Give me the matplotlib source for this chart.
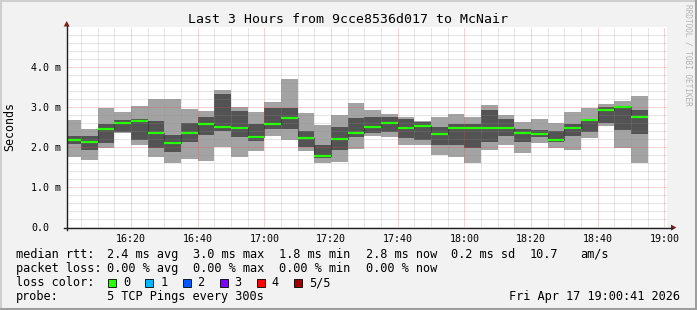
import matplotlib
matplotlib.use("Agg")
import matplotlib.pyplot as plt
from matplotlib.patches import Rectangle, Polygon
from matplotlib.lines import Line2D

W, H = 697, 310
MONO = "DejaVu Sans Mono"
plt.rcParams["font.family"] = MONO
plt.rcParams["lines.scale_dashes"] = False

# minutes after 16:00, one bar per 5 minute step (300s)
step_start = list(range(0, 175, 5))
# 5 pings per step, sorted: min, 2nd, median, 4th, max (ms)
ping_min = [1.73, 1.67, 1.97, 2.33, 2.05, 1.73, 1.60, 1.69, 1.64, 2.00,
            1.74, 1.90, 2.28, 2.17, 1.90, 1.60, 1.62, 1.94, 2.27, 2.24,
            2.05, 2.04, 1.79, 1.74, 1.60, 1.92, 2.05, 1.85, 2.10, 1.97,
            1.92, 2.22, 2.52, 1.97, 1.60]
ping_lo = [2.07, 1.92, 2.10, 2.38, 2.17, 1.97, 1.88, 2.12, 2.29, 2.39,
           2.24, 2.15, 2.43, 2.44, 2.00, 1.72, 1.92, 2.24, 2.34, 2.37,
           2.22, 2.17, 2.05, 2.05, 1.97, 2.12, 2.27, 2.12, 2.25, 2.12,
           2.27, 2.37, 2.59, 2.42, 2.32]
ping_med = [2.17, 2.13, 2.45, 2.60, 2.65, 2.35, 2.10, 2.35, 2.57, 2.49,
            2.46, 2.24, 2.57, 2.72, 2.22, 1.77, 2.20, 2.35, 2.50, 2.60,
            2.47, 2.53, 2.33, 2.47, 2.47, 2.47, 2.47, 2.35, 2.33, 2.17,
            2.47, 2.67, 2.92, 3.00, 2.75]
ping_hi = [2.27, 2.27, 2.57, 2.67, 2.68, 2.64, 2.29, 2.58, 2.74, 3.32,
           2.89, 2.57, 2.96, 2.96, 2.39, 2.04, 2.49, 2.72, 2.74, 2.75,
           2.69, 2.62, 2.49, 2.57, 2.57, 2.92, 2.69, 2.44, 2.42, 2.39,
           2.57, 2.69, 2.99, 3.00, 2.92]
ping_max = [2.67, 2.44, 2.96, 2.86, 3.02, 3.19, 3.19, 2.94, 2.89, 3.42,
            3.00, 2.87, 3.12, 3.69, 2.84, 2.54, 2.79, 3.09, 2.92, 2.82,
            2.75, 2.64, 2.74, 2.82, 2.74, 3.04, 2.79, 2.62, 2.69, 2.59,
            2.87, 2.97, 3.07, 3.14, 3.27]

x_ticks = [20, 40, 60, 80, 100, 120, 140, 160, 180]
x_labels = ["16:20", "16:40", "17:00", "17:20", "17:40", "18:00", "18:20", "18:40", "19:00"]
y_ticks = [0, 1, 2, 3, 4]
y_labels = ["0.0", "1.0 m", "2.0 m", "3.0 m", "4.0 m"]

rtt_stats = ["2.4 ms avg", "3.0 ms max", "1.8 ms min", "2.8 ms now", "0.2 ms sd", "10.7", "am/s"]
loss_stats = ["0.00 % avg", "0.00 % max", "0.00 % min", "0.00 % now"]
loss_names = ["0", "1", "2", "3", "4", "5/5"]
loss_colors = ["#26ff00", "#00b8ff", "#0059ff", "#7e00ff", "#ff0000", "#a10000"]

t0 = 41 / 60.0  # graph starts 16:00:41


def fx(px):
    return px / W


def fy(py):
    return 1 - py / H


fig = plt.figure(figsize=(W / 100, H / 100), dpi=100, facecolor="#f2f2f2")
ax = fig.add_axes([fx(66.7), fy(226.7), 600 / W, 200 / H])
ax.set_facecolor("white")
ax.set_xlim(t0, t0 + 180)
ax.set_ylim(0, 5)
for s in ax.spines.values():
    s.set_visible(False)

# smoke
outer = [a - b for a, b in zip(ping_max, ping_min)]
inner = [a - b for a, b in zip(ping_hi, ping_lo)]
ax.bar(step_start, outer, bottom=ping_min, width=5, align="edge", color="#a3a3a3", lw=0, zorder=1)
ax.bar(step_start, inner, bottom=ping_lo, width=5, align="edge", color="#535353", lw=0, zorder=1.1)

# grid on top of the smoke
gcol = (0.56, 0.56, 0.56, 0.45)
mcol = (0.87, 0.31, 0.31, 0.5)
dots = (0, (0.72, 0.72))
for m in range(5, 185, 5):
    if m % 20 == 0:
        ax.axvline(m, color=mcol, lw=0.7, ls=dots, zorder=2)
    else:
        ax.axvline(m, color=gcol, lw=0.7, ls=dots, zorder=2)
for k in range(1, 25):
    v = k * 0.2
    if k % 5 == 0:
        ax.axhline(v, color=mcol, lw=0.7, ls=dots, zorder=2)
    else:
        ax.axhline(v, color=gcol, lw=0.7, ls=dots, zorder=2)

# median line
for i in range(1, len(step_start)):
    ax.vlines(step_start[i], ping_med[i - 1], ping_med[i], color="#202020", lw=0.8,
              ls=dots, zorder=3)
ax.hlines(ping_med, step_start, [s + 5 for s in step_start], color=loss_colors[0], lw=1.6, zorder=4)

# ticks
ax.set_xticks(x_ticks)
ax.set_xticklabels(x_labels, fontsize=7.2)
ax.set_yticks(y_ticks)
ax.set_yticklabels(y_labels, fontsize=7.2, ha="left")
ax.tick_params(axis="x", length=0, pad=5)
ax.tick_params(axis="y", length=0, pad=25.7)
ax.set_ylabel("Seconds", fontsize=8.4)
ax.yaxis.set_label_coords(-0.084, 0.5)

# axes + arrows
acol = (0.12, 0.12, 0.12)
arrow = (0.5, 0.12, 0.12)
fig.add_artist(Line2D([fx(64), fx(672)], [fy(227.6), fy(227.6)], color=acol, lw=1.0))
fig.add_artist(Line2D([fx(66.7), fx(66.7)], [fy(230), fy(26)], color=acol, lw=1.0))
fig.add_artist(Polygon([[fx(671), fy(224.6)], [fx(676.5), fy(227.6)], [fx(671), fy(230.6)]],
                       closed=True, color=arrow, lw=0))
fig.add_artist(Polygon([[fx(63.7), fy(26.5)], [fx(66.7), fy(21)], [fx(69.7), fy(26.5)]],
                       closed=True, color=arrow, lw=0))

# frame shade
sa, sb = "#cfcfcf", "#9e9e9e"
fig.add_artist(Line2D([0, 1], [fy(1), fy(1)], color=sa, lw=1.5))
fig.add_artist(Line2D([fx(1), fx(1)], [0, 1], color=sa, lw=1.5))
fig.add_artist(Line2D([0, 1], [fy(309), fy(309)], color=sb, lw=1.5))
fig.add_artist(Line2D([fx(696), fx(696)], [0, 1], color=sb, lw=1.5))

# title and watermark
fig.text(0.5, fy(19.3), "Last 3 Hours from 9cce8536d017 to McNair", ha="center", va="center", fontsize=9.5)
fig.text(fx(688), fy(4), "RRDTOOL / TOBI OETIKER", rotation=270, ha="center", va="top",
         fontsize=5.6, color="#b4b4b4")

# legend
fs = 8.6
rows = [254.3, 268.3, 282.7, 296.2]
heads = ["median rtt:", "packet loss:", "loss color:", "probe:"]
for r, h in zip(rows, heads):
    fig.text(fx(16), fy(r), h, ha="left", va="center", fontsize=fs)
for s, x in zip(rtt_stats, [107.3, 193.3, 279.3, 365.7, 451, 529.5, 580]):
    fig.text(fx(x), fy(rows[0]), s, ha="left", va="center", fontsize=fs)
for s, x in zip(loss_stats, [107.3, 193.3, 279.3, 365.7]):
    fig.text(fx(x), fy(rows[1]), s, ha="left", va="center", fontsize=fs)
for i, (n, c) in enumerate(zip(loss_names, loss_colors)):
    bx = 108.3 + i * 37.1
    fig.add_artist(Rectangle((fx(bx), fy(rows[2] + 4)), 8 / W, 8 / H, transform=fig.transFigure,
                             facecolor=c, edgecolor="black", lw=0.6))
    fig.text(fx(bx + 15), fy(rows[2]), n, ha="left", va="center", fontsize=fs)
fig.text(fx(107.3), fy(rows[3]), "5 TCP Pings every 300s", ha="left", va="center", fontsize=fs)
fig.text(fx(680), fy(rows[3]), "Fri Apr 17 19:00:41 2026", ha="right", va="center", fontsize=fs)

fig.savefig("out.png", dpi=100, facecolor=fig.get_facecolor())
